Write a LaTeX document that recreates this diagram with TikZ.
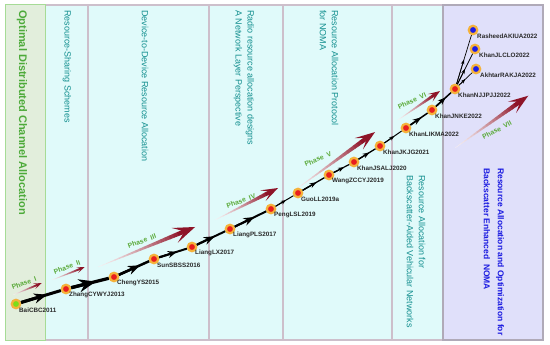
\documentclass[tikz,border=0pt]{standalone}
\usepackage{fontspec}
\setmainfont{Liberation Sans}
\usetikzlibrary{arrows.meta,calc}
\definecolor{cgreen}{HTML}{E2EEDC}
\definecolor{cgreenline}{HTML}{A6DB96}
\definecolor{ccyan}{HTML}{E0FAFA}
\definecolor{cline}{HTML}{CDBFCB}
\definecolor{clav}{HTML}{E0E0FA}
\definecolor{clavline}{HTML}{B0AAB8}
\definecolor{tealtext}{HTML}{138F8F}
\definecolor{greentitle}{HTML}{4DAA3A}
\definecolor{bluetext}{HTML}{1A1AE0}
\definecolor{phasegreen}{HTML}{5BAA3A}
\definecolor{pmaroon}{HTML}{8E1428}
\definecolor{nred}{HTML}{E81E1E}
\definecolor{nring}{HTML}{F5B23A}
\definecolor{ngreen}{HTML}{7CDD18}
\definecolor{nblue}{HTML}{1C1CE8}
\definecolor{labtext}{HTML}{2A2A2A}
\newcommand\phasearrow[7]{%
\begin{scope}[shift={(#1,#2)},rotate=#3]
\pgfmathsetmacro\Lb{#4-0.65*#5}
\foreach \i in {0,...,19}{
 \pgfmathsetmacro\xa{\Lb*\i/20}
 \pgfmathsetmacro\xb{\Lb*(\i+1)/20+0.4}
 \pgfmathsetmacro\wa{0.15+(#7-0.15)*\i/20}
 \pgfmathsetmacro\wb{0.15+(#7-0.15)*(\i+1)/20}
 \pgfmathtruncatemacro\pc{6+94*((\i+1)/20)^1.4}
 \fill[pmaroon!\pc!white] (\xa,-\wa) -- (\xb,-\wb) -- (\xb,\wb) -- (\xa,\wa) -- cycle;
}
\fill[pmaroon] (#4,0) -- (#4-#5,#6) -- (\Lb,#7) -- (\Lb,-#7) -- (#4-#5,-#6) -- cycle;
\end{scope}}
\newcommand\chainlink[6]{%
\draw[line width=#3pt] (#1) -- (#2);
\draw[line width=#3pt,-{Stealth[length=#4pt,width=#5pt]}] (#1) -- ($(#1)!#6!(#2)$);}
\begin{document}
\begin{tikzpicture}[x=1pt,y=-1pt,
  paper/.style={circle,fill=nred,draw=nring,line width=2.2pt,minimum size=8.5pt,inner sep=0pt},
  lab/.style={anchor=west,inner sep=0pt,font=\fontsize{6.3}{7}\selectfont\bfseries,text=labtext},
  coltext/.style={anchor=west,rotate=-90,inner sep=0pt,font=\fontsize{9}{11}\selectfont,text=tealtext},
  bluecol/.style={coltext,font=\fontsize{8.5}{10}\selectfont\bfseries,text=bluetext},
  phaselab/.style={inner sep=0pt,font=\fontsize{6.8}{8}\selectfont\bfseries,text=phasegreen}]
\useasboundingbox (0,0) rectangle (550,345);
\fill[white] (0,0) rectangle (550,345);
% columns
\fill[ccyan] (45,5) rectangle (443,340);
\draw[cline,line width=1.2pt] (45,5) -- (443,5);
\draw[cline,line width=1.2pt] (45,340) -- (443,340);
\foreach \xx in {88,209,283,392}{\draw[cline,line width=1.4pt] (\xx,5) -- (\xx,340);}
\filldraw[fill=clav,draw=clavline,line width=1.2pt] (443,5) rectangle (543,340);
\filldraw[fill=cgreen,draw=cgreenline,line width=1pt] (5,5) rectangle (45,340);
% column titles
\node[coltext,font=\fontsize{11}{13}\selectfont\bfseries,text=greentitle] (t1) at (22,10) {Optimal Distributed Channel Allocation};
\node[coltext] (t2) at (67,10) {Resource-Sharing Schemes};
\node[coltext] (t3) at (145,10) {Device-to-Device Resource Allocation};
\node[coltext] (t4a) at (250,10) {Radio resource allocation designs};
\node[coltext] (t4b) at (238,10) {A Network Layer Perspective};
\node[coltext] (t5a) at (335,10) {Resource Allocation Protocol};
\node[coltext] (t5b) at (323,10) {for NOMA};
\node[coltext] (t6a) at (422,175) {Resource Allocation for};
\node[coltext] (t6b) at (410,175) {Backscatter-Aided Vehicular Networks};
\node[bluecol] (t7a) at (500,168) {Resource Allocation and Optimization for};
\node[bluecol] (t7b) at (487,168) {Backscatter Enhanced\ \ NOMA};
% phase arrows
\phasearrow{13}{295}{22.5}{31}{8}{3}{1}
\phasearrow{52}{280}{21.5}{35}{8}{3}{1}
\phasearrow{98}{267}{22.4}{105}{22}{8}{2.2}
\phasearrow{215}{220}{26.9}{70.7}{17}{6}{2}
\phasearrow{295}{190}{35.9}{98.8}{20}{7}{2.2}
\phasearrow{398}{120}{34.6}{51}{12}{4.5}{1.5}
\phasearrow{455}{148}{35.5}{90}{20}{7}{2.2}
\node[phaselab,rotate=20] (p1) at (24,283) {Phase\ \ I};
\node[phaselab,rotate=20] (p2) at (67,267) {Phase\ \ II};
\node[phaselab,rotate=20] (p3) at (142,241) {Phase\ \ III};
\node[phaselab,rotate=20] (p4) at (241,201) {Phase\ \ IV};
\node[phaselab,rotate=23] (p5) at (318,159) {Phase\ \ V};
\node[phaselab,rotate=25] (p6) at (412,101) {Phase\ \ VI};
\node[phaselab,rotate=28] (p7) at (497,130) {Phase\ \ VII};
% nodes
\node[paper,fill=ngreen] (n1) at (16,304) {};
\node[paper] (n2) at (66,289) {};
\node[paper] (n3) at (114,277) {};
\node[paper] (n4) at (154,259) {};
\node[paper] (n5) at (192,247) {};
\node[paper] (n6) at (230,229) {};
\node[paper] (n7) at (271,209) {};
\node[paper] (n8) at (298,193) {};
\node[paper] (n9) at (329,175) {};
\node[paper] (n10) at (354,162) {};
\node[paper] (n11) at (380,146) {};
\node[paper] (n12) at (406,128) {};
\node[paper] (n13) at (432,110) {};
\node[paper] (n14) at (455,89) {};
\node[paper,fill=nblue] (n15) at (473,30) {};
\node[paper,fill=nblue] (n16) at (475,49) {};
\node[paper,fill=nblue] (n17) at (476,69) {};
% labels
\node[lab] (l1) at (19,310) {BaiCBC2011};
\node[lab] (l2) at (69,295) {ZhangCYWYJ2013};
\node[lab] (l3) at (117,283) {ChengYS2015};
\node[lab] (l4) at (157,265) {SunSBSS2016};
\node[lab] (l5) at (195,253) {LiangLX2017};
\node[lab] (l6) at (233,235) {LiangPLS2017};
\node[lab] (l7) at (274,215) {PengLSL2019};
\node[lab] (l8) at (301,199) {GuoLL2019a};
\node[lab] (l9) at (332,181) {WangZCCYJ2019};
\node[lab] (l10) at (357,168) {KhanJSALJ2020};
\node[lab] (l11) at (383,152) {KhanJKJG2021};
\node[lab] (l12) at (409,134) {KhanLIKMA2022};
\node[lab] (l13) at (435,116) {KhanJNKE2022};
\node[lab] (l14) at (458,95) {KhanNJJPJJ2022};
\node[lab] (l15) at (477,36) {RasheedAKIUA2022};
\node[lab] (l16) at (479,55) {KhanJLCLO2022};
\node[lab] (l17) at (480,75) {AkhtarRAKJA2022};
% chain
\chainlink{n1}{n2}{3}{13}{10}{0.62}
\chainlink{n2}{n3}{3.2}{17}{13}{0.62}
\chainlink{n3}{n4}{2.5}{12}{9}{0.65}
\chainlink{n4}{n5}{2}{9}{7}{0.6}
\chainlink{n5}{n6}{2}{11}{8}{0.6}
\chainlink{n6}{n7}{2}{11}{8}{0.6}
\chainlink{n7}{n8}{1}{5}{4}{0.55}
\chainlink{n8}{n9}{1.3}{7}{5}{0.6}
\chainlink{n9}{n10}{1.2}{6}{4.5}{0.6}
\chainlink{n10}{n11}{1.3}{7}{5}{0.6}
\chainlink{n11}{n12}{1}{5}{4}{0.55}
\chainlink{n12}{n13}{1.5}{9}{6}{0.6}
\chainlink{n13}{n14}{1.5}{8}{6}{0.6}
\chainlink{n14}{n15}{0.7}{5}{3.5}{0.5}
\chainlink{n14}{n16}{0.7}{5}{3.5}{0.5}
\chainlink{n14}{n17}{0.7}{5}{3.5}{0.5}
\end{tikzpicture}
\end{document}
